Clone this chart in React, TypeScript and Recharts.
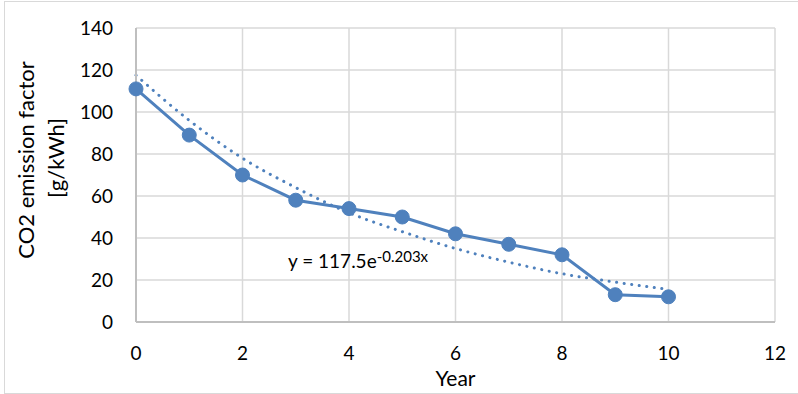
import React from 'react';
import { LineChart, Line, XAxis, YAxis, CartesianGrid, Label, Customized } from 'recharts';

const years = [0, 1, 2, 3, 4, 5, 6, 7, 8, 9, 10];
const emission = [111, 89, 70, 58, 54, 50, 42, 37, 32, 13, 12];
const trend = [117.5, 96, 78, 64, 52, 43, 35, 28.5, 23, 19, 15.5];
const xTicks = [0, 2, 4, 6, 8, 10, 12];
const yTicks = [0, 20, 40, 60, 80, 100, 120, 140];

const data = years.map((y, i) => ({ year: y, emission: emission[i], trend: trend[i] }));

const FONT = 'Lato, "Noto Sans", sans-serif';
const BLUE = '#4f81bd';

const XTick = (props: any) => (
  <text x={props.x} y={props.y} dy="0.71em" textAnchor="middle" fontFamily={FONT} fontSize={19} fill="#000">
    {props.payload.value}
  </text>
);

const YTick = (props: any) => (
  <text x={props.x} y={props.y} dy="0.36em" textAnchor="end" fontFamily={FONT} fontSize={19} fill="#000">
    {props.payload.value}
  </text>
);

const YTitle = () => (
  <g>
    <text x={34} y={160} transform="rotate(-90 34 160)" textAnchor="middle" fontFamily={FONT} fontSize={22} fill="#000">
      CO2 emission factor
    </text>
    <text x={64} y={158} transform="rotate(-90 64 158)" textAnchor="middle" fontFamily={FONT} fontSize={22} fill="#000">
      [g/kWh]
    </text>
  </g>
);

const Equation = () => (
  <text x={288} y={268} fontFamily={FONT} fontSize={19} fill="#000">
    y = 117.5e
    <tspan dy={-6} fontSize={15}>-0.203x</tspan>
  </text>
);

export default function App() {
  return (
    <div style={{ position: 'absolute', left: 0, top: 0, width: 798, height: 394, background: '#fff', overflow: 'hidden' }}>
      <div style={{ position: 'absolute', left: 4, top: 1, width: 800, height: 393, border: '1px solid #d9d9d9', boxSizing: 'border-box' }} />
      <LineChart width={798} height={394} data={data} margin={{ top: 28, right: 23, left: 0, bottom: 0 }}>
        <CartesianGrid stroke="#d9d9d9" strokeWidth={1.5} horizontalValues={yTicks} verticalValues={xTicks} />
        <XAxis
          dataKey="year"
          type="number"
          domain={[0, 12]}
          ticks={xTicks}
          height={72}
          tickLine={false}
          tickSize={0}
          tickMargin={25}
          axisLine={{ stroke: '#bfbfbf', strokeWidth: 2 }}
          tick={<XTick />}
        >
          <Label value="Year" position="insideBottom" offset={8} style={{ fontFamily: FONT, fontSize: 21, fill: '#000' }} />
        </XAxis>
        <YAxis
          type="number"
          domain={[0, 140]}
          ticks={yTicks}
          width={136}
          tickLine={false}
          tickSize={0}
          tickMargin={23}
          axisLine={{ stroke: '#bfbfbf', strokeWidth: 2 }}
          tick={<YTick />}
        />
        <Line
          dataKey="trend"
          type="monotone"
          stroke={BLUE}
          strokeWidth={3}
          strokeDasharray="0.1 7.5"
          strokeLinecap="round"
          dot={false}
          activeDot={false}
          isAnimationActive={false}
        />
        <Line
          dataKey="emission"
          type="linear"
          stroke={BLUE}
          strokeWidth={3}
          dot={{ r: 7, fill: BLUE, stroke: BLUE, strokeWidth: 1 }}
          activeDot={false}
          isAnimationActive={false}
        />
        <Customized component={YTitle} />
        <Customized component={Equation} />
      </LineChart>
    </div>
  );
}
